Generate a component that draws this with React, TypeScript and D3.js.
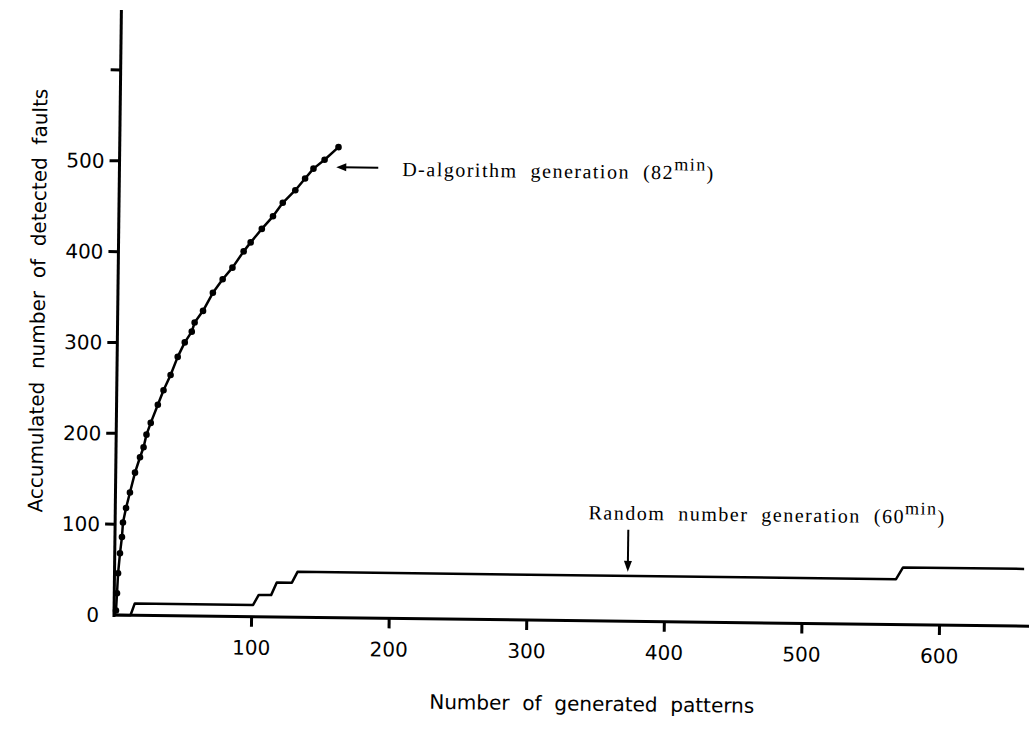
import React from 'react';
import * as d3 from 'd3';

// D-algorithm generation curve
const dPatterns = [0, 1.4, 2, 2.6, 3.8, 5.1, 5.7, 7.8, 10.5, 14, 17.5, 20, 22, 25, 30, 34, 39, 44, 49, 54, 56, 62, 69, 76, 83, 91, 96, 104, 112, 119, 128, 135, 141, 149, 159];
const dFaults = [0, 5, 24, 46, 68, 86, 102, 118, 135, 157, 174, 185, 199, 212, 232, 248, 265, 285, 301, 313, 323, 336, 356, 371, 384, 402, 412, 427, 441, 456, 470, 483, 494, 504, 518];

// random number generation, a staircase
const rPatterns = [0, 12, 15, 101, 105, 114, 118, 129, 133, 568, 573, 661];
const rFaults = [0, 0, 13, 13, 24, 24, 38, 38, 50, 50, 63, 63];

const yTicks = [0, 100, 200, 300, 400, 500, 600];
const yTickLabels = ['0', '100', '200', '300', '400', '500', ''];
const xTicks = [100, 200, 300, 400, 500, 600];
const xTickLabels = ['100', '200', '300', '400', '500', '600'];

const W = 1029;
const H = 731;
const ox = 114; // origin of the axes on the page
const oy = 615;
const tilt = 0.7; // the scan is slightly rotated

const sans = '"DejaVu Sans", sans-serif';
const serif = '"Liberation Serif", "DejaVu Serif", serif';
const gap = '\u00a0\u00a0'; // wide word gaps like the typeset original

export default function App() {
  const x = d3.scaleLinear().domain([0, 665]).range([ox, W]);
  const y = d3.scaleLinear().domain([0, 666]).range([oy, 10]);

  const line = d3.line<[number, number]>()
    .x(d => x(d[0]))
    .y(d => y(d[1]));

  const dPts: [number, number][] = dPatterns.map((p, i) => [p, dFaults[i]]);
  const rPts: [number, number][] = rPatterns.map((p, i) => [p, rFaults[i]]);

  const dEnd = dPts[dPts.length - 1];

  return (
    <svg width={W} height={H} style={{ position: 'absolute', left: 0, top: 0, background: '#fff' }}>
      <g transform={`rotate(${tilt},${ox},${oy})`}>
        {/* axes */}
        <line x1={x(0)} x2={x(0)} y1={y(0) + 2} y2={y(666)} stroke="#000" strokeWidth={3} />
        <line x1={x(0)} x2={W + 10} y1={y(0)} y2={y(0)} stroke="#000" strokeWidth={3} />

        {yTicks.map((t, i) => (
          <g key={'y' + t}>
            {t > 0 && <line x1={x(0) - 10} x2={x(0)} y1={y(t)} y2={y(t)} stroke="#000" strokeWidth={3} />}
            <text x={x(0) - 15} y={y(t)} dy="0.36em" textAnchor="end" fontFamily={sans} fontSize={20}>
              {yTickLabels[i]}
            </text>
          </g>
        ))}

        {xTicks.map((t, i) => (
          <g key={'x' + t}>
            <line x1={x(t)} x2={x(t)} y1={y(0)} y2={y(0) + 10} stroke="#000" strokeWidth={3} />
            <text x={x(t)} y={y(0) + 38} textAnchor="middle" fontFamily={sans} fontSize={20}>
              {xTickLabels[i]}
            </text>
          </g>
        ))}

        {/* series */}
        <path d={line(rPts) || ''} fill="none" stroke="#000" strokeWidth={2.5} strokeLinejoin="round" />
        <path d={line(dPts) || ''} fill="none" stroke="#000" strokeWidth={2.5} strokeLinejoin="round" />
        {dPts.slice(1).map((d, i) => (
          <circle key={i} cx={x(d[0])} cy={y(d[1])} r={3.3} fill="#000" />
        ))}

        {/* annotations */}
        <line x1={x(dEnd[0]) + 40} x2={x(dEnd[0]) + 4} y1={y(dEnd[1]) + 20} y2={y(dEnd[1]) + 20} stroke="#000" strokeWidth={2} />
        <path
          d={`M${x(dEnd[0]) - 2},${y(dEnd[1]) + 20} l10,-4 l0,8 z`}
          fill="#000"
        />
        <text x={x(dEnd[0]) + 64} y={y(dEnd[1]) + 28} fontFamily={serif} fontSize={20} letterSpacing={1.5}>
          {`D-algorithm${gap}generation${gap}(82`}<tspan dy={-9} fontSize={18}>min</tspan><tspan dy={9}>)</tspan>
        </text>

        <line x1={x(373)} x2={x(373)} y1={y(50) - 46} y2={y(50) - 8} stroke="#000" strokeWidth={2} />
        <path d={`M${x(373)},${y(50) - 4} l-4,-11 l8,0 z`} fill="#000" />
        <text x={x(344)} y={y(50) - 56} fontFamily={serif} fontSize={20} letterSpacing={1.5}>
          {`Random${gap}number${gap}generation${gap}(60`}<tspan dy={-9} fontSize={18}>min</tspan><tspan dy={9}>)</tspan>
        </text>

        {/* axis titles */}
        <text x={x(348)} y={y(0) + 90} textAnchor="middle" fontFamily={sans} fontSize={20}>
          {`Number${gap}of${gap}generated${gap}patterns`}
        </text>
        <text
          transform={`translate(${x(0) - 73},${y(345)}) rotate(-90)`}
          textAnchor="middle"
          fontFamily={sans}
          fontSize={20}
        >
          {`Accumulated${gap}number${gap}of${gap}detected${gap}faults`}
        </text>
      </g>
    </svg>
  );
}
